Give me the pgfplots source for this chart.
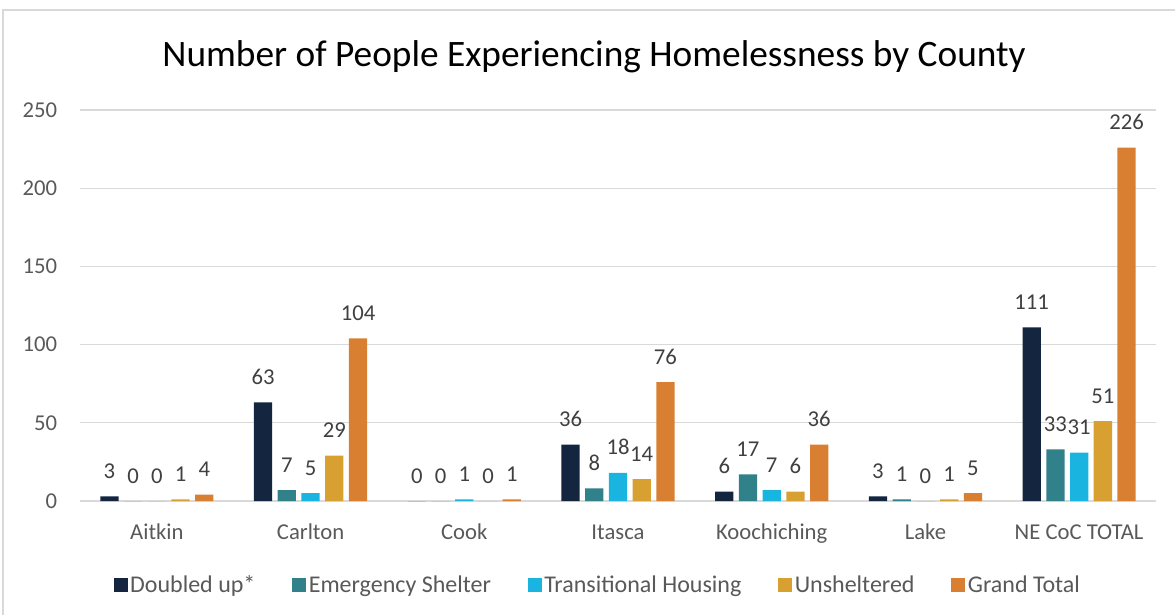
\documentclass[border=0pt]{standalone}
\usepackage{fontspec}
\setmainfont{Carlito}
\usepackage{pgfplots}
\pgfplotsset{compat=1.18}
\definecolor{cDbl}{HTML}{13253F}
\definecolor{cEmg}{HTML}{31818A}
\definecolor{cTrn}{HTML}{19B4E0}
\definecolor{cUns}{HTML}{D8A031}
\definecolor{cTot}{HTML}{D97F31}
\definecolor{tickgray}{HTML}{595959}
\definecolor{labgray}{HTML}{404040}
\definecolor{gridgray}{HTML}{D9D9D9}

\begin{document}
\begin{tikzpicture}[x=0.75pt,y=0.75pt]
\path[use as bounding box] (0,0) rectangle (1175,615);
\draw[line width=1.2pt, color=gridgray] (3,0) -- (3,605) -- (1175,605);
\node[font=\fontsize{28}{32}\selectfont, text=black] at (594,558)
  {Number of People Experiencing Homelessness by County};
\begin{axis}[
  at={(60pt,85.5pt)}, anchor=south west,
  scale only axis, width=807pt, height=293.25pt,
  xmin=-0.5, xmax=6.5, ymin=0, ymax=250,
  ytick={0,50,...,250},
  xtick={0,...,6},
  xticklabels={Aitkin,Carlton,Cook,Itasca,Koochiching,Lake,NE CoC TOTAL},
  axis line style={draw=none},
  major tick length=0pt,
  ymajorgrids, grid style={gridgray, line width=1pt},
  tick label style={font=\fontsize{17}{19}\selectfont, text=tickgray},
  /pgf/number format/assume math mode=true,
  yticklabel style={anchor=east, inner sep=0pt, xshift=-17pt},
  xticklabel style={anchor=base, inner sep=0pt, yshift=-28.5pt},
  ybar=4.1pt, bar width=13.7pt,
  nodes near coords,
  every node near coord/.append style={font=\fontsize{17}{19}\selectfont, text=labgray, anchor=base, inner sep=0pt, yshift=13.5pt},
  legend columns=5,
  legend style={at={(0.4815,-0.215)}, anchor=center, draw=none,
    font=\fontsize{18}{20}\selectfont, text=tickgray,
    /tikz/every even column/.append style={column sep=25.5pt},
    nodes={inner sep=2pt}},
  legend image code/.code={\fill[#1] (0pt,-5.25pt) rectangle (10.5pt,5.25pt);},
]
\addplot[fill=cDbl, draw=none] coordinates {(0,3) (1,63) (2,0) (3,36) (4,6) (5,3) (6,111)};
\addplot[fill=cEmg, draw=none] coordinates {(0,0) (1,7) (2,0) (3,8) (4,17) (5,1) (6,33)};
\addplot[fill=cTrn, draw=none] coordinates {(0,0) (1,5) (2,1) (3,18) (4,7) (5,0) (6,31)};
\addplot[fill=cUns, draw=none] coordinates {(0,1) (1,29) (2,0) (3,14) (4,6) (5,1) (6,51)};
\addplot[fill=cTot, draw=none] coordinates {(0,4) (1,104) (2,1) (3,76) (4,36) (5,5) (6,226)};
\legend{Doubled up*, Emergency Shelter, Transitional Housing, Unsheltered, Grand Total}
\end{axis}
\end{tikzpicture}
\end{document}
